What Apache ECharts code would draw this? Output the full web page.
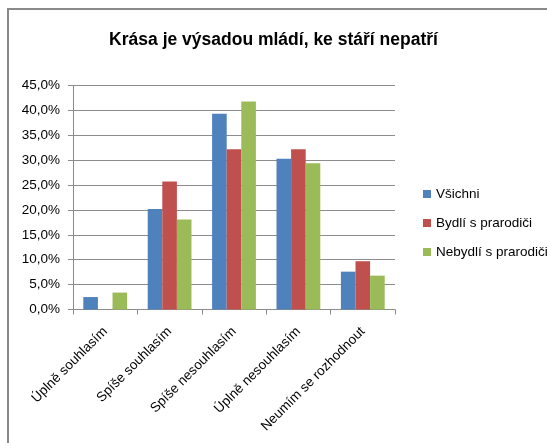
<!DOCTYPE html>
<html>
<head>
<meta charset="utf-8">
<script src="https://cdn.jsdelivr.net/npm/echarts@6/dist/echarts.min.js"></script>
<style>
  html, body { margin: 0; padding: 0; background: #fff; }
  #app { width: 547px; height: 443px; }
</style>
</head>
<body>
<div id="app"></div>
<script>
var categories = ['Úplně souhlasím', 'Spíše souhlasím', 'Spíše nesouhlasím', 'Úplně nesouhlasím', 'Neumím se rozhodnout'];
var vsichni = [2.5, 20.2, 39.3, 30.3, 7.6];
var bydli = [0, 25.7, 32.2, 32.2, 9.7];
var nebydli = [3.4, 18.1, 41.8, 29.4, 6.8];
var seriesNames = ['Všichni', 'Bydlí s prarodiči', 'Nebydlí s prarodiči'];

window.onload = function() {
    var myChart = echarts.init(document.getElementById('app'));
    var font = 'Liberation Sans, Arial, sans-serif';
    var option = {
        animation: false,
        backgroundColor: '#fff',
        textStyle: { fontFamily: font },
        title: {
            text: 'Krása je výsadou mládí, ke stáří nepatří',
            left: 'center',
            top: 26,
            textStyle: { fontSize: 17.5, fontWeight: 'bold', color: '#000', fontFamily: font }
        },
        graphic: [{
            type: 'rect',
            shape: { x: 8, y: 9, width: 600, height: 500 },
            style: { fill: 'none', stroke: '#8a8a8a', lineWidth: 2 },
            silent: true
        }],
        legend: {
            orient: 'vertical',
            left: 418,
            top: 181,
            itemWidth: 8,
            itemHeight: 8,
            itemGap: 13,
            icon: 'rect',
            textStyle: { fontSize: 13.5, lineHeight: 16, color: '#000' },
            data: seriesNames
        },
        grid: {
            left: 73,
            right: 152,
            top: 85.5,
            bottom: 133.5,
            containLabel: false
        },
        xAxis: {
            type: 'category',
            data: categories,
            axisLine: { lineStyle: { color: '#8c8c8c', width: 1 } },
            axisTick: { show: true, length: 5, lineStyle: { color: '#8c8c8c' } },
            axisLabel: {
                rotate: 45,
                interval: 0,
                color: '#000',
                fontSize: 13.5,
                margin: 20
            }
        },
        yAxis: {
            type: 'value',
            min: 0,
            max: 45,
            interval: 5,
            axisLine: { show: true, lineStyle: { color: '#8c8c8c', width: 1 } },
            axisTick: { show: true, length: 5, lineStyle: { color: '#8c8c8c' } },
            splitLine: { lineStyle: { color: '#8c8c8c', width: 1 } },
            axisLabel: {
                color: '#000',
                fontSize: 13.5,
                margin: 13,
                formatter: function(v) {
                    return v.toFixed(1).replace('.', ',') + '%';
                }
            }
        },
        series: [{
            name: seriesNames[0],
            type: 'bar',
            data: vsichni,
            barGap: 0,
            barCategoryGap: '32%',
            itemStyle: { color: '#4F81BD' }
        }, {
            name: seriesNames[1],
            type: 'bar',
            data: bydli,
            barGap: 0,
            barCategoryGap: '32%',
            itemStyle: { color: '#C0504D' }
        }, {
            name: seriesNames[2],
            type: 'bar',
            data: nebydli,
            barGap: 0,
            barCategoryGap: '32%',
            itemStyle: { color: '#9BBB59' }
        }]
    };
    myChart.setOption(option);
};
</script>
</body>
</html>
